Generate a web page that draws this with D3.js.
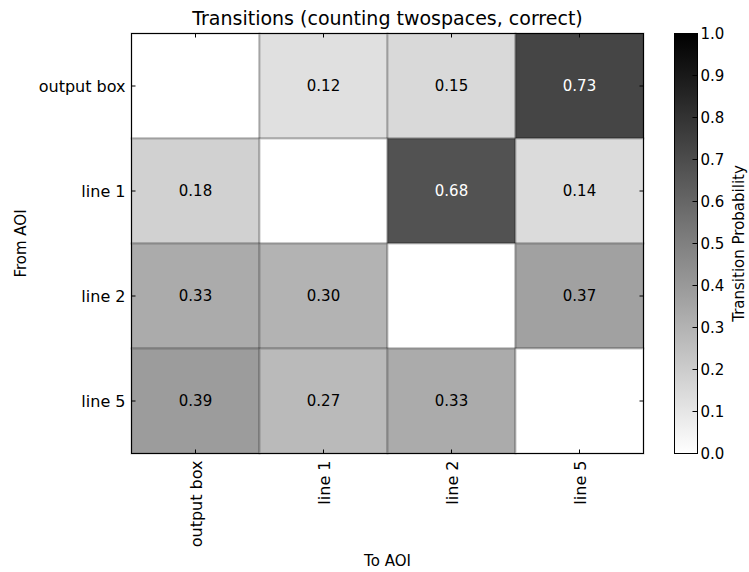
<!DOCTYPE html>
<html>
<head>
<meta charset="utf-8">
<script src="https://cdn.jsdelivr.net/npm/d3@7"></script>
<style>
  html, body { margin: 0; padding: 0; background: #fff; }
  svg { display: block; font-family: "DejaVu Sans", sans-serif; }
</style>
</head>
<body>
<svg id="chart" width="749" height="572"></svg>
<script>
// Transition probabilities between areas of interest (rows: from, columns: to)
const fromAOI = ["output box", "line 1", "line 2", "line 5"];
const toAOI = ["output box", "line 1", "line 2", "line 5"];
const rowOutputBox = [null, 0.12, 0.15, 0.73];
const rowLine1 = [0.18, null, 0.68, 0.14];
const rowLine2 = [0.33, 0.30, null, 0.37];
const rowLine5 = [0.39, 0.27, 0.33, null];
const colorbarTicks = [0.0, 0.1, 0.2, 0.3, 0.4, 0.5, 0.6, 0.7, 0.8, 0.9, 1.0];

const matrix = [rowOutputBox, rowLine1, rowLine2, rowLine5];
const cells = [];
matrix.forEach((row, i) => row.forEach((v, j) => cells.push({ from: fromAOI[i], to: toAOI[j], value: v })));

const svg = d3.select("#chart");
const plot = { left: 131.5, right: 643.5, top: 33.5, bottom: 453.5 };
const bar = { left: 674.5, right: 697.5 };

const x = d3.scaleBand().domain(toAOI).range([plot.left, plot.right]);
const y = d3.scaleBand().domain(fromAOI).range([plot.top, plot.bottom]);
const grey = v => { const g = Math.round((1 - v) * 255); return `rgb(${g},${g},${g})`; };

// Heatmap cells
const g = svg.append("g");
g.selectAll("rect.cell").data(cells).join("rect")
  .attr("class", "cell")
  .attr("x", d => x(d.to)).attr("y", d => y(d.from))
  .attr("width", x.bandwidth()).attr("height", y.bandwidth())
  .attr("fill", d => d.value == null ? "#fff" : grey(d.value))
  .attr("stroke", "rgba(0,0,0,0.22)").attr("stroke-width", 2);

g.selectAll("text.val").data(cells.filter(d => d.value != null)).join("text")
  .attr("class", "val")
  .attr("x", d => x(d.to) + x.bandwidth() / 2)
  .attr("y", d => y(d.from) + y.bandwidth() / 2)
  .attr("text-anchor", "middle").attr("dominant-baseline", "central")
  .attr("font-size", 15)
  .attr("fill", d => d.value > 0.5 ? "#fff" : "#000")
  .text(d => d.value.toFixed(2));

// Frame
svg.append("rect")
  .attr("x", plot.left).attr("y", plot.top)
  .attr("width", plot.right - plot.left).attr("height", plot.bottom - plot.top)
  .attr("fill", "none").attr("stroke", "#000").attr("stroke-width", 1);

// Axes with inward ticks on all sides
const tickLen = 4;
const xTicks = svg.append("g");
toAOI.forEach(t => {
  const cx = x(t) + x.bandwidth() / 2;
  xTicks.append("line").attr("x1", cx).attr("x2", cx).attr("y1", plot.bottom).attr("y2", plot.bottom - tickLen).attr("stroke", "#000");
  xTicks.append("line").attr("x1", cx).attr("x2", cx).attr("y1", plot.top).attr("y2", plot.top + tickLen).attr("stroke", "#000");
  xTicks.append("text")
    .attr("transform", `translate(${cx + 6},${plot.bottom + 7}) rotate(-90)`)
    .attr("text-anchor", "end").attr("font-size", 16).attr("fill", "#000")
    .text(t);
});
const yTicks = svg.append("g");
fromAOI.forEach(t => {
  const cy = y(t) + y.bandwidth() / 2;
  yTicks.append("line").attr("x1", plot.left).attr("x2", plot.left + tickLen).attr("y1", cy).attr("y2", cy).attr("stroke", "#000");
  yTicks.append("line").attr("x1", plot.right).attr("x2", plot.right - tickLen).attr("y1", cy).attr("y2", cy).attr("stroke", "#000");
  yTicks.append("text")
    .attr("x", plot.left - 6).attr("y", cy)
    .attr("text-anchor", "end").attr("dominant-baseline", "central")
    .attr("font-size", 16).attr("fill", "#000")
    .text(t);
});

// Title and axis labels
svg.append("text").attr("x", (plot.left + plot.right) / 2).attr("y", 25)
  .attr("text-anchor", "middle").attr("font-size", 19).text("Transitions (counting twospaces, correct)");
svg.append("text").attr("x", (plot.left + plot.right) / 2).attr("y", 566)
  .attr("text-anchor", "middle").attr("font-size", 15).text("To AOI");
svg.append("text").attr("transform", `translate(26,${(plot.top + plot.bottom) / 2}) rotate(-90)`)
  .attr("text-anchor", "middle").attr("font-size", 15).text("From AOI");

// Colorbar
const cScale = d3.scaleLinear().domain([0, 1]).range([plot.bottom, plot.top]);
const defs = svg.append("defs");
const grad = defs.append("linearGradient").attr("id", "cbar")
  .attr("x1", 0).attr("y1", 1).attr("x2", 0).attr("y2", 0);
d3.range(0, 1.0001, 0.1).forEach(v => grad.append("stop").attr("offset", v).attr("stop-color", grey(v)));
svg.append("rect")
  .attr("x", bar.left).attr("y", cScale(1))
  .attr("width", bar.right - bar.left).attr("height", cScale(0) - cScale(1))
  .attr("fill", "url(#cbar)").attr("stroke", "#000").attr("stroke-width", 1);
const cAxis = svg.append("g");
colorbarTicks.forEach(v => {
  const cy = cScale(v);
  cAxis.append("line").attr("x1", bar.right).attr("x2", bar.right - 5).attr("y1", cy).attr("y2", cy).attr("stroke", "#000");
  cAxis.append("text").attr("x", bar.right + 3).attr("y", cy)
    .attr("dominant-baseline", "central").attr("font-size", 15).attr("fill", "#000")
    .text(d3.format(".1f")(v));
});
svg.append("text").attr("transform", `translate(744,${(plot.top + plot.bottom) / 2}) rotate(-90)`)
  .attr("text-anchor", "middle").attr("font-size", 15).text("Transition Probability");
</script>
</body>
</html>
